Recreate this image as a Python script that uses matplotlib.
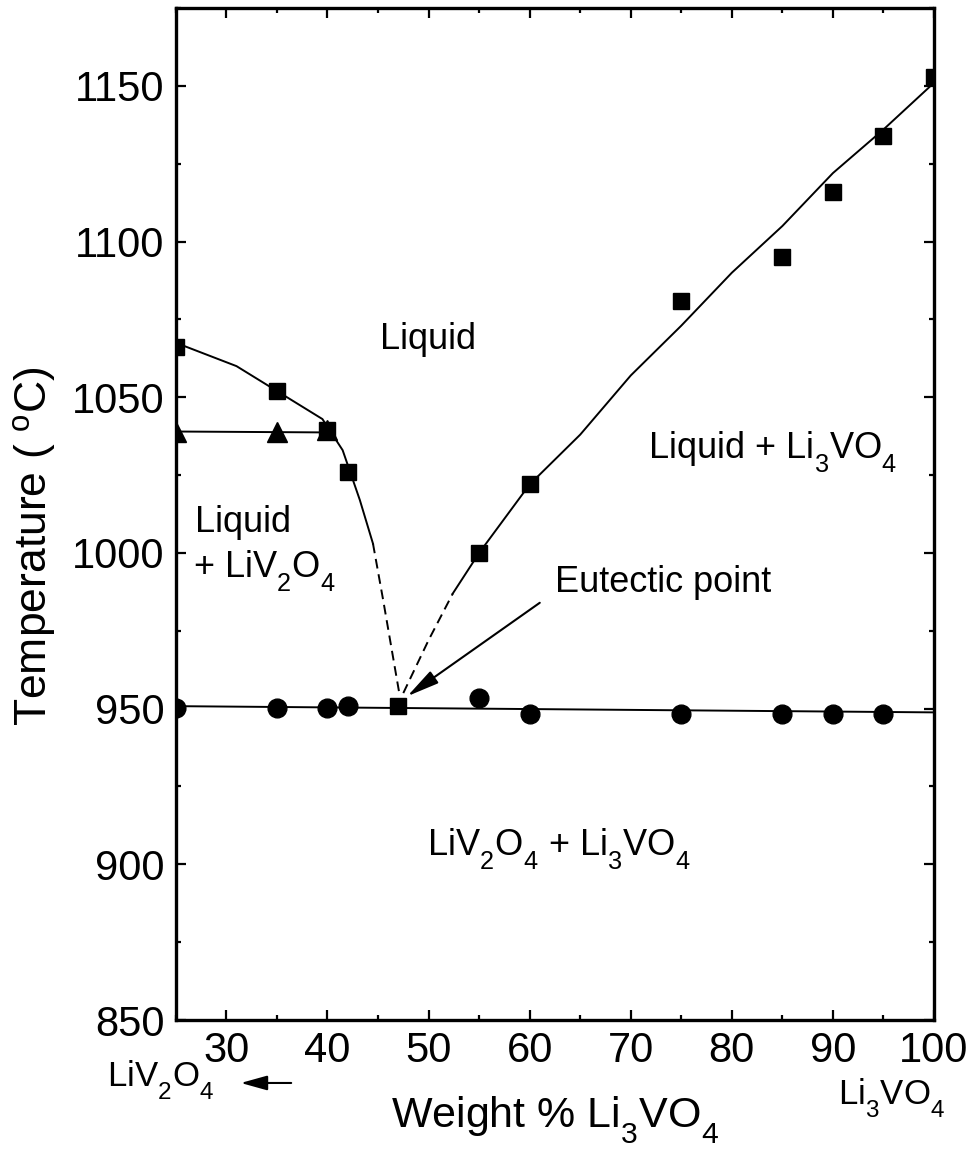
import numpy as np
import matplotlib
matplotlib.use('Agg')
from matplotlib import pyplot as plt
from matplotlib import _mathtext
from matplotlib.patches import FancyArrowPatch
from matplotlib.ticker import MultipleLocator

plt.rcParams['font.family'] = ['Liberation Sans', 'DejaVu Sans']
plt.rcParams['mathtext.fontset'] = 'custom'
plt.rcParams['mathtext.rm'] = 'Liberation Sans'
plt.rcParams['mathtext.it'] = 'Liberation Sans:italic'
plt.rcParams['mathtext.bf'] = 'Liberation Sans:bold'
# drop the chemical-formula subscripts a bit lower than mathtext's default
_mathtext.FontConstantsBase.sub1 = 0.7

# measured liquidus (squares), LiV2O4 transition (triangles), solidus (circles)
liq_x = [25, 35, 40, 42, 47, 55, 60, 75, 85, 90, 95, 100]
liq_t = [1066, 1052, 1039.5, 1026, 951, 1000, 1022, 1081, 1095, 1116, 1134, 1153]
tri_x = [25, 35, 40]
tri_t = [1039, 1039, 1039.5]
sol_x = [25, 35, 40, 42, 55, 60, 75, 85, 90, 95]
sol_t = [950.3, 950.3, 950.3, 951, 953.3, 948.3, 948.3, 948.3, 948.3, 948.3]

# guide curves
left_solid_x = [25, 31, 35, 37, 39.5, 41.5, 43.2, 44.5]
left_solid_t = [1067.5, 1060, 1052, 1048, 1043, 1033, 1017, 1003]
left_dash_x = [44.5, 45.5, 46.3, 47.1]
left_dash_t = [1003, 985, 970, 955]
right_dash_x = [47.5, 50, 52.4]
right_dash_t = [955, 972, 987]
right_solid_x = [52.4, 55, 60, 65, 70, 75, 80, 85, 90, 95, 100]
right_solid_t = [987, 1000, 1022, 1038, 1057, 1073, 1090, 1105, 1122, 1136, 1151]
tri_line_x = [25, 40.5]
tri_line_t = [1039, 1038.7]
sol_line_x = [25, 100]
sol_line_t = [950.8, 948.8]

fig = plt.figure(figsize=(9.77, 11.51), dpi=100)
ax = fig.add_axes([0.180, 0.1138, 0.776, 0.8792])

lw = 1.4
dash = (0, (5, 3))
ax.plot(left_solid_x, left_solid_t, 'k-', lw=lw)
ax.plot(left_dash_x, left_dash_t, 'k', lw=lw, ls=dash)
ax.plot(right_dash_x, right_dash_t, 'k', lw=lw, ls=dash)
ax.plot(right_solid_x, right_solid_t, 'k-', lw=lw)
ax.plot(tri_line_x, tri_line_t, 'k-', lw=lw)
ax.plot(sol_line_x, sol_line_t, 'k-', lw=lw)

ax.plot(liq_x, liq_t, 's', color='k', ms=12, ls='none')
ax.plot(tri_x, tri_t, '^', color='k', ms=14, ls='none')
ax.plot(sol_x, sol_t, 'o', color='k', ms=13.5, ls='none')

ax.set_xlim(25, 100)
ax.set_ylim(850, 1175)
ax.xaxis.set_major_locator(MultipleLocator(10))
ax.xaxis.set_minor_locator(MultipleLocator(5))
ax.yaxis.set_major_locator(MultipleLocator(50))
ax.yaxis.set_minor_locator(MultipleLocator(25))
ax.tick_params(which='both', direction='in', top=True, right=True,
               labelsize=30, pad=8, width=1.6)
ax.tick_params(which='major', length=7)
ax.tick_params(which='minor', length=3.6)
for s in ax.spines.values():
    s.set_linewidth(2.4)

fs = 26
ax.text(45.2, 1065.4, 'Liquid', fontsize=fs)
ax.text(26.9, 1006.6, 'Liquid', fontsize=fs)
ax.text(26.7, 992.4, r'+ LiV$_2$O$_4$', fontsize=fs)
ax.text(71.7, 1030.4, r'Liquid + Li$_3$VO$_4$', fontsize=fs)
ax.text(62.5, 987.6, 'Eutectic point', fontsize=fs)
ax.text(49.8, 903, r'LiV$_2$O$_4$ + Li$_3$VO$_4$', fontsize=fs)

ax.annotate('', xy=(47.9, 954), xytext=(61, 984),
            arrowprops=dict(arrowstyle='-|>,head_length=0.9,head_width=0.2',
                            color='k', lw=1.5, mutation_scale=22,
                            shrinkA=0, shrinkB=0))

# axis titles and end-member labels
fig.text(0.0358, 0.5256, r'Temperature ( $^{\rm o}$C)', rotation=90,
         ha='center', va='center', fontsize=32)
fig.text(0.568, 0.02, r'Weight % Li$_3$VO$_4$', ha='center', va='baseline',
         fontsize=31)
fig.text(0.1095, 0.0556, r'LiV$_2$O$_4$', ha='left', va='baseline', fontsize=25)
fig.text(0.8577, 0.0399, r'Li$_3$VO$_4$', ha='left', va='baseline', fontsize=25)
fig.patches.append(FancyArrowPatch(
    (0.3009, 0.0591), (0.2436, 0.0591), transform=fig.transFigure,
    arrowstyle='-|>,head_length=0.9,head_width=0.25', mutation_scale=18,
    color='k', lw=1.5))

fig.savefig('out.png', dpi=100)
